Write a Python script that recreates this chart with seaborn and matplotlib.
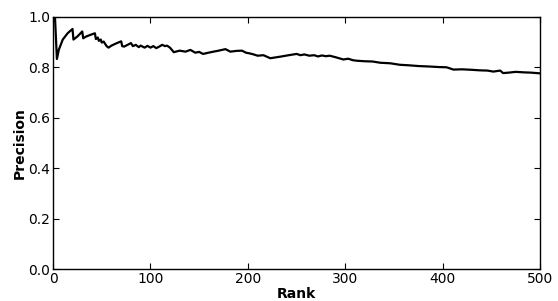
import matplotlib
matplotlib.use('Agg')
import matplotlib.pyplot as plt
import seaborn as sns
import pandas as pd

# Precision at rank
rank = [1, 2, 4, 6, 10, 15, 20, 21, 25, 30, 31, 34, 38, 43, 44, 46, 47, 49, 50, 52,
        55, 57, 60, 65, 70, 71, 73, 77, 80, 82, 85, 88, 90, 94, 97, 100, 103, 106,
        109, 112, 115, 117, 120, 124, 130, 136, 141, 146, 150, 154, 162, 170, 177,
        182, 188, 194, 198, 202, 206, 210, 216, 223, 233, 242, 250, 254, 258, 263,
        268, 272, 276, 280, 284, 290, 298, 303, 308, 312, 320, 328, 336, 346, 356,
        365, 375, 387, 396, 404, 411, 420, 430, 438, 446, 452, 459, 462, 468, 475,
        483, 490, 500]
precision = [1.0, 1.0, 0.833, 0.87, 0.91, 0.935, 0.952, 0.91, 0.922, 0.942, 0.915,
             0.922, 0.928, 0.935, 0.912, 0.918, 0.905, 0.91, 0.898, 0.902,
             0.884, 0.878, 0.886, 0.895, 0.903, 0.884, 0.882, 0.89, 0.896, 0.884,
             0.889, 0.88, 0.886, 0.878, 0.885, 0.878, 0.884, 0.876, 0.882, 0.889,
             0.884, 0.886, 0.878, 0.860, 0.866, 0.862, 0.869, 0.858, 0.861, 0.853,
             0.860, 0.866, 0.872, 0.862, 0.865, 0.866, 0.858, 0.855, 0.851, 0.846,
             0.848, 0.836, 0.842, 0.848, 0.853, 0.848, 0.851, 0.846, 0.848, 0.843,
             0.847, 0.844, 0.846, 0.840, 0.831, 0.834, 0.828, 0.826, 0.824, 0.823,
             0.818, 0.816, 0.810, 0.808, 0.805, 0.803, 0.801, 0.800, 0.791, 0.792,
             0.790, 0.788, 0.787, 0.783, 0.787, 0.777, 0.779, 0.782, 0.780, 0.779,
             0.776]

df = pd.DataFrame({'Rank': rank, 'Precision': precision})

sns.set_style('ticks', {'xtick.direction': 'in', 'ytick.direction': 'in',
                        'axes.edgecolor': 'black', 'text.color': 'black',
                        'axes.labelcolor': 'black', 'xtick.color': 'black',
                        'ytick.color': 'black'})
plt.rcParams['font.family'] = ['DejaVu Sans']

fig = plt.figure(figsize=(5.58, 3.01), dpi=100)
ax = fig.add_axes([0.095, 0.106, 0.873, 0.838])
sns.lineplot(data=df, x='Rank', y='Precision', color='black', linewidth=1.6, ax=ax)

ax.set_xlim(0, 500)
ax.set_ylim(0, 1.0)
ax.set_xticks([0, 100, 200, 300, 400, 500])
ax.set_yticks([0.0, 0.2, 0.4, 0.6, 0.8, 1.0])
ax.tick_params(top=True, right=True, labelsize=10, length=4, width=0.8, pad=2)
ax.set_xlabel('Rank', fontsize=10, fontweight='bold', labelpad=1)
ax.set_ylabel('Precision', fontsize=10, fontweight='bold', labelpad=1)
for s in ax.spines.values():
    s.set_linewidth(1.0)
    s.set_visible(True)

fig.savefig('out.png', dpi=100)
plt.close(fig)
